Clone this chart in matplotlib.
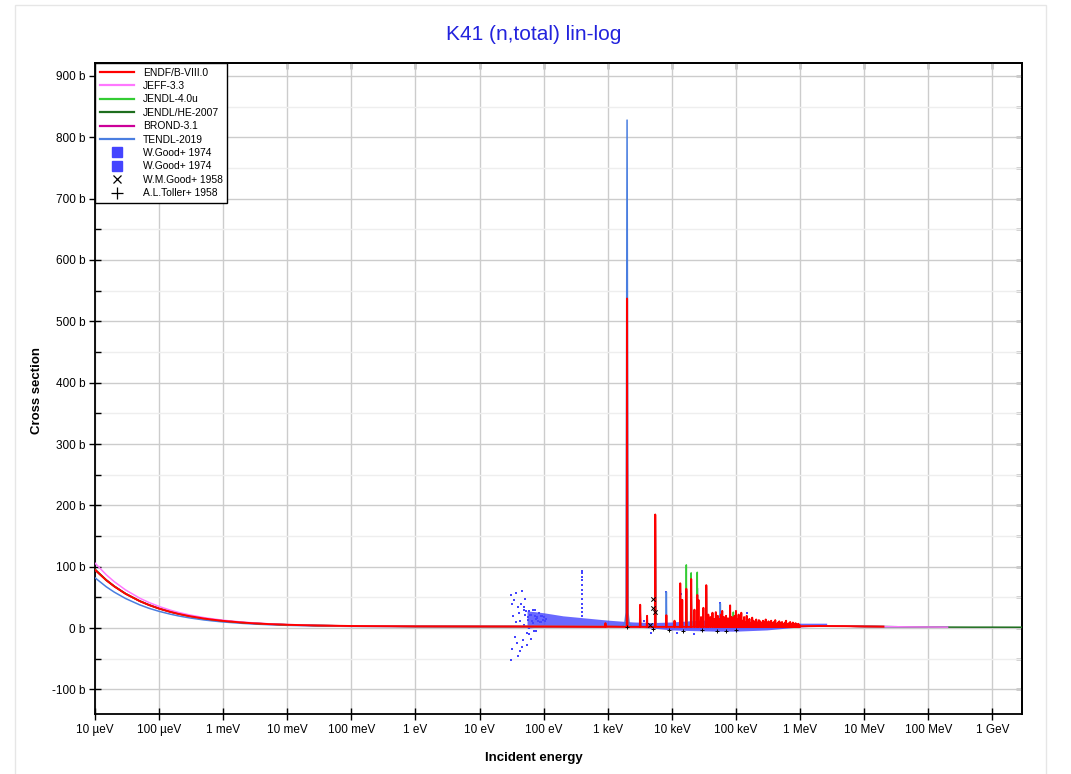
import numpy as np
import matplotlib
matplotlib.use("Agg")
import matplotlib.pyplot as plt
from matplotlib.ticker import FixedLocator, FixedFormatter, FuncFormatter, NullLocator
from matplotlib.patches import Rectangle
from matplotlib.lines import Line2D

plt.rcParams['font.family'] = ['Liberation Sans', 'DejaVu Sans']

# ---------------- data ----------------
libraries = ["ENDF/B-VIII.0", "JEFF-3.3", "JENDL-4.0u", "JENDL/HE-2007", "BROND-3.1", "TENDL-2019"]
lib_colors = ["#ff0000", "#ff77ff", "#33cc33", "#1e6e1e", "#cc0099", "#4a7ee0"]

# smooth low-energy part (eV, barn)
low_E = [1e-5, 1.5e-5, 2e-5, 3e-5, 5e-5, 7e-5, 1e-4, 1.5e-4, 2e-4, 3e-4, 5e-4, 7e-4,
         1e-3, 2e-3, 3e-3, 5e-3, 1e-2, 3e-2, 0.1, 1.0, 10.0, 100.0, 1000.0]
low_endf = [95, 78.0, 67.9, 55.9, 43.9, 37.5, 31.75, 26.4, 23.2, 19.4, 15.6, 13.6,
            11.75, 9.0, 7.8, 6.6, 5.4, 4.2, 3.4, 2.8, 2.6, 2.5, 2.4]
low_jeff = [105.9, 86.9, 75.6, 62.2, 48.7, 41.6, 35.2, 29.2, 25.6, 21.4, 17.1, 14.9,
            12.8, 9.8, 8.5, 7.1, 5.8, 4.4, 3.5, 2.9, 2.7, 2.6, 2.5]
low_jendl4 = [95, 78.0, 67.9, 55.9, 43.9, 37.5, 31.75, 26.4, 23.2, 19.4, 15.6, 13.6,
              11.75, 9.0, 7.8, 6.6, 5.4, 4.2, 3.4, 2.8, 2.6, 2.5, 2.4]
low_jendlhe = [96, 78.6, 68.4, 56.3, 44.2, 37.8, 32.0, 26.6, 23.4, 19.6, 15.8, 13.7,
               11.8, 9.1, 7.9, 6.7, 5.5, 4.3, 3.5, 2.8, 2.6, 2.5, 2.4]
low_brond = [95, 78.0, 67.9, 55.9, 43.9, 37.5, 31.75, 26.4, 23.2, 19.4, 15.6, 13.6,
             11.75, 9.0, 7.8, 6.6, 5.4, 4.2, 3.4, 2.8, 2.6, 2.5, 2.4]
low_tendl = [82, 67.3, 58.6, 48.2, 37.8, 32.2, 27.3, 22.7, 19.9, 16.6, 13.3, 11.6,
             10.0, 7.7, 6.6, 5.6, 4.5, 3.5, 2.8, 2.4, 2.3, 2.3, 2.3]

# smooth high-energy part (eV, barn)
high_E_endf = [1e6, 2e6, 5e6, 1e7, 2e7]
high_endf = [3.0, 3.4, 3.2, 2.7, 2.4]
high_E_jeff = [1e6, 2e6, 5e6, 1e7, 2e7, 5e7, 1e8, 2e8]
high_jeff = [3.0, 3.4, 3.2, 2.7, 2.4, 2.0, 1.8, 1.6]
high_E_jendl4 = [1e6, 2e6, 5e6, 1e7, 2e7]
high_jendl4 = [3.0, 3.4, 3.2, 2.7, 2.4]
high_E_jendlhe = [1e6, 2e6, 5e6, 1e7, 2e7, 5e7, 1e8, 2e8, 5e8, 1e9, 3e9]
high_jendlhe = [3.0, 3.4, 3.2, 2.7, 2.4, 2.0, 1.8, 1.6, 1.5, 1.5, 1.4]
high_E_brond = [1e6, 2e6, 5e6, 1e7, 2e7]
high_brond = [3.0, 3.4, 3.2, 2.7, 2.4]
high_E_tendl = [1e6, 2e6, 5e6, 1e7, 2e7, 5e7, 1e8, 2e8]
high_tendl = [3.0, 3.3, 3.1, 2.7, 2.4, 2.0, 1.8, 1.6]

# resonance peaks (eV, barn)
endf_res_E = [920, 2.0e3, 3.2e3, 4.1e3, 5.5e3, 8.2e3, 1.1e4, 1.35e4, 1.45e4, 1.68e4, 2.0e4,
              2.25e4, 2.49e4, 2.6e4, 2.85e4, 3.1e4, 3.44e4, 3.7e4, 4.0e4, 4.3e4, 4.6e4, 4.85e4,
              5.2e4, 5.5e4, 5.8e4, 6.1e4, 6.5e4, 6.8e4, 7.0e4, 7.5e4, 7.8e4, 8.1e4, 8.6e4, 9.0e4, 9.5e4,
              1.00e5, 1.05e5, 1.10e5, 1.16e5, 1.21e5, 1.27e5, 1.34e5, 1.40e5, 1.47e5, 1.55e5,
              1.62e5, 1.70e5, 1.79e5, 1.88e5, 1.97e5, 2.07e5, 2.17e5, 2.28e5, 2.40e5, 2.52e5,
              2.64e5, 2.77e5, 2.91e5, 3.06e5, 3.21e5, 3.37e5, 3.54e5, 3.72e5, 3.90e5, 4.10e5,
              4.30e5, 4.52e5, 4.74e5, 4.98e5, 5.23e5, 5.49e5, 5.77e5, 6.05e5, 6.36e5, 6.67e5,
              7.01e5, 7.36e5, 7.72e5, 8.11e5, 8.52e5, 8.94e5, 9.39e5, 9.86e5]
endf_res_h = [8, 537, 38, 20, 185, 21, 12, 73, 46, 64, 80,
              30, 54, 46, 18, 33, 70, 22, 18, 25, 15, 26,
              20, 15, 22, 28, 18, 14, 20, 16, 12, 37, 18, 16, 20,
              28, 14, 22, 10, 25, 12, 18, 9, 20, 11,
              15, 8, 17, 12, 10, 14, 9, 13, 11, 8,
              12, 10, 14, 7, 11, 9, 12, 8, 10, 13,
              7, 9, 11, 8, 10, 6, 9, 12, 7, 8,
              10, 6, 9, 7, 8, 6, 7, 5]
jendl4_res_E = [2.0e3, 5.5e3, 1.35e4, 1.68e4, 2.0e4, 2.49e4, 3.44e4, 9.1e4]
jendl4_res_h = [537, 185, 60, 103, 90, 91, 65, 26]
jendlhe_res_E = [2.0e3, 3.2e3, 5.5e3, 1.35e4, 1.68e4, 2.0e4, 3.44e4, 8.1e4]
jendlhe_res_h = [537, 35, 185, 70, 60, 75, 68, 30]
brond_res_E = [2.0e3, 3.2e3, 5.5e3, 1.35e4, 1.68e4, 2.0e4, 3.44e4, 8.1e4]
brond_res_h = [537, 36, 184, 72, 62, 78, 69, 34]
jeff_res_E = [2.0e3, 5.5e3, 1.35e4, 2.0e4, 3.44e4]
jeff_res_h = [530, 180, 70, 78, 68]
tendl_res_E = [5.5e3, 8.2e3, 1.35e4, 2.5e4, 5.7e4]
tendl_res_h = [180, 59, 70, 65, 40]
# broad TENDL resonance at 2 keV
tendl_peak_E = [1.70e3, 1.85e3, 1.93e3, 2.0e3, 2.07e3, 2.15e3, 2.35e3]
tendl_peak_s = [3, 8, 25, 828, 25, 8, 3]

# experimental data: W.Good+ 1974 (scattered points)
good74a_E = [30.5, 31.0, 31.5, 32.5, 33.5, 34.5, 35.5, 36.5, 37.5, 38.5,
             39.5, 41, 42.5, 44, 45.5, 47, 48.5, 50, 52, 54,
             56, 58, 60, 62.5, 65, 67.5, 70, 73, 76, 79,
             82, 85, 88, 92, 96, 100, 105, 110, 40, 43,
             46, 49, 51, 53, 55, 57, 59, 61, 64, 68,
             72, 75, 78, 84, 90, 95,
             400, 400, 400, 400, 400, 400, 400, 400, 400, 400, 400, 400,
             8.2e3, 1.4e4, 2.5e4, 5.7e4, 3.7e3, 2.2e4, 1.2e4, 4.8e3, 3.4e4, 1.5e5]
good74a_s = [54, -52, 40, -34, 20, 45, -15, 57, 10, -25,
             35, 25, -38, 40, 61, -20, 30, 5, 48, -28,
             18, 28, -10, 22, 12, 30, -5, 20, 15, 18,
             12, 25, 10, 20, 14, 18, 12, 15, -45, 12,
             -30, 35, 22, 28, -8, 14, 0, 22, -18, 8,
             30, -5, 16, 24, 10, 20,
             93, 89, 84, 78, 70, 62, 55, 48, 40, 32, 26, 20,
             59, 55, 65, 41, 12, -10, -8, -8, 45, 25]
# experimental data: W.Good+ 1974 (dense band, envelope)
good74b_E = [55, 70, 100, 200, 400, 1000, 1800, 2500, 5000, 1e4, 2e4, 5e4, 1e5, 3e5, 1e6, 2.6e6]
good74b_lo = [0, 1, 2, 3, 4, 3, 2, 2, 0, -3, -4, -5, -5, -3, 2, 4]
good74b_hi = [28, 27, 25, 20, 17, 13, 11, 10, 9, 10, 12, 14, 12, 10, 8, 8]
# W.M.Good+ 1958
good58_E = [5.1e3, 5.1e3, 5.4e3, 4.6e3]
good58_s = [47, 33, 26, 5]
# A.L.Toller+ 1958
toller_E = [2.0e3, 5.0e3, 9e3, 1.5e4, 3e4, 5e4, 7e4, 1e5]
toller_s = [2, -2, -3, -4, -3, -5, -4, -3]

x_tick_vals = [1e-5, 1e-4, 1e-3, 1e-2, 1e-1, 1, 10, 100, 1e3, 1e4, 1e5, 1e6, 1e7, 1e8, 1e9]
x_tick_labels = ["10 µeV", "100 µeV", "1 meV", "10 meV", "100 meV", "1 eV", "10 eV", "100 eV",
                 "1 keV", "10 keV", "100 keV", "1 MeV", "10 MeV", "100 MeV", "1 GeV"]
y_tick_vals = [-100, 0, 100, 200, 300, 400, 500, 600, 700, 800, 900]

# ---------------- helpers ----------------
SPIKE_W = 0.012
RES_BASE = 2.0


def build_curve(lowE, lows, resE, resh, highE, highs, extraE=(), extras=()):
    pts = list(zip(lowE, lows)) + list(zip(highE, highs)) + list(zip(extraE, extras))
    for e, h in zip(resE, resh):
        pts += [(e * (1 - SPIKE_W), RES_BASE), (e, h), (e * (1 + SPIKE_W), RES_BASE)]
    pts.sort(key=lambda p: p[0])
    return [p[0] for p in pts], [p[1] for p in pts]


# ---------------- figure ----------------
fig = plt.figure(figsize=(10.71, 7.74), dpi=100)
fig.patches.append(Rectangle((15 / 1071, -0.01), (1046 - 15) / 1071, 1 - 5 / 774 + 0.01,
                             transform=fig.transFigure, fill=False, edgecolor="#e6e6e6", lw=1))
ax = fig.add_axes([95 / 1071, 1 - 714 / 774, (1022 - 95) / 1071, (714 - 63) / 774])
ax.set_xscale('log')
ax.set_xlim(1e-5, 2.9e9)
ax.set_ylim(-140, 921)

data_blue = "#4444ff"
ax.fill_between(good74b_E, good74b_lo, good74b_hi, color=data_blue, alpha=0.8, lw=0, zorder=2)
ax.scatter(good74a_E, good74a_s, s=4, marker='s', color=data_blue, lw=0, zorder=2)

curves = [
    (low_tendl, tendl_res_E, tendl_res_h, high_E_tendl, high_tendl, tendl_peak_E, tendl_peak_s, 5),
    (low_brond, brond_res_E, brond_res_h, high_E_brond, high_brond, (), (), 4),
    (low_jendlhe, jendlhe_res_E, jendlhe_res_h, high_E_jendlhe, high_jendlhe, (), (), 3),
    (low_jendl4, jendl4_res_E, jendl4_res_h, high_E_jendl4, high_jendl4, (), (), 2),
    (low_jeff, jeff_res_E, jeff_res_h, high_E_jeff, high_jeff, (), (), 1),
    (low_endf, endf_res_E, endf_res_h, high_E_endf, high_endf, (), (), 0),
]
for lows, rE, rh, hE, hs, xE, xs, idx in curves:
    xx, yy = build_curve(low_E, lows, rE, rh, hE, hs, xE, xs)
    ax.plot(xx, yy, color=lib_colors[idx], lw=1.4 if idx == 0 else 1.1,
            zorder=3 + (5 - idx) * 0.1)

ax.scatter(good58_E, good58_s, s=10, marker='x', color='black', lw=0.7, zorder=5)
ax.scatter(toller_E, toller_s, s=8, marker='+', color='black', lw=0.7, zorder=5)

# axes styling
ax.xaxis.set_major_locator(FixedLocator(x_tick_vals))
ax.xaxis.set_major_formatter(FixedFormatter(x_tick_labels))
ax.xaxis.set_minor_locator(NullLocator())
ax.yaxis.set_major_locator(FixedLocator(y_tick_vals))
ax.yaxis.set_major_formatter(FuncFormatter(lambda v, p: f"{int(round(v))} b"))
ax.yaxis.set_minor_locator(FixedLocator([v + 50 for v in y_tick_vals]))
ax.grid(which='major', color='#cccccc', lw=1, zorder=0)
ax.grid(which='minor', axis='y', color='#eeeeee', lw=1, zorder=0)
ax.set_axisbelow(True)
for s in ax.spines.values():
    s.set_linewidth(1.3)
    s.set_color('black')
ax.tick_params(which='major', direction='inout', length=8, width=1, labelsize=8.5, colors='black', pad=3)
ax.tick_params(which='minor', axis='y', direction='in', length=4, width=1)

sec_y = ax.secondary_yaxis('right')
sec_y.yaxis.set_major_locator(FixedLocator(y_tick_vals + [v + 50 for v in y_tick_vals]))
sec_y.tick_params(direction='in', length=4, width=1, labelright=False)
sec_y.spines['right'].set_linewidth(1.3)
sec_x = ax.secondary_xaxis('top')
sec_x.xaxis.set_major_locator(FixedLocator(x_tick_vals))
sec_x.xaxis.set_minor_locator(NullLocator())
sec_x.tick_params(direction='in', length=4, width=1, labeltop=False)
sec_x.spines['top'].set_linewidth(1.3)

# legend
handles = [Line2D([], [], color=c, lw=1.6) for c in lib_colors]
handles += [Line2D([], [], ls='none', marker='s', markersize=7, color=data_blue),
            Line2D([], [], ls='none', marker='s', markersize=7, color=data_blue),
            Line2D([], [], ls='none', marker='x', markersize=6, color='black', mew=0.9),
            Line2D([], [], ls='none', marker='+', markersize=8, color='black', mew=0.9)]
labels = libraries + ["W.Good+ 1974", "W.Good+ 1974", "W.M.Good+ 1958", "A.L.Toller+ 1958"]
leg = ax.legend(handles, labels, loc='upper left', borderaxespad=0, fontsize=7.4,
                fancybox=False, framealpha=1, edgecolor='black', handlelength=3.3,
                labelspacing=0.33, borderpad=0.45, handletextpad=0.9)
leg.get_frame().set_linewidth(1)

fig.text(0.4985, 1 - 34 / 774, "K41 (n,total) lin-log", ha='center', va='center',
         fontsize=15, color='#2222dd')
fig.text(534 / 1071, 1 - 758 / 774, "Incident energy", ha='center', va='center',
         fontsize=9.5, fontweight='bold')
fig.text(37 / 1071, 1 - 390 / 774, "Cross section", ha='center', va='center',
         fontsize=9.5, fontweight='bold', rotation=90)

fig.savefig("out.png", dpi=100)
